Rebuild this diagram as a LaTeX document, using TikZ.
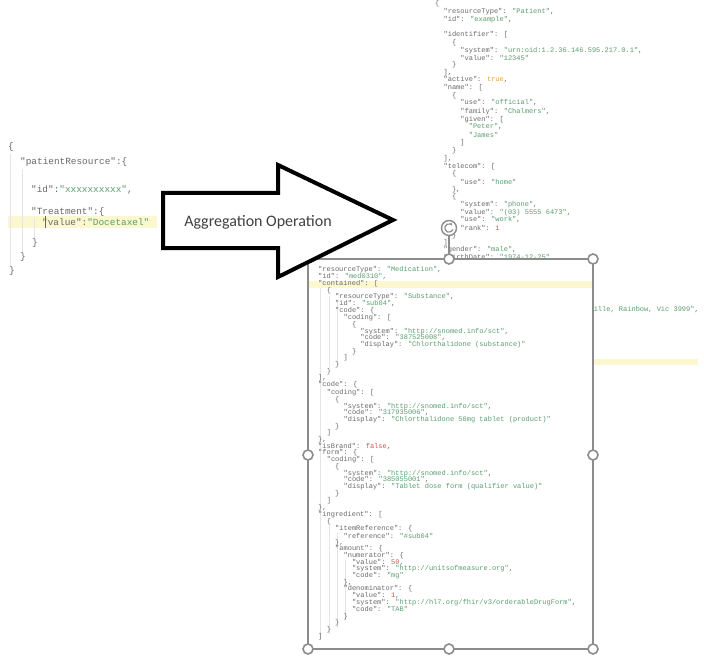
\documentclass[tikz,border=0pt]{standalone}
\usepackage{fontspec}
\usetikzlibrary{arrows.meta}
\newfontfamily\codef{Liberation Mono}
\newfontfamily\calf{Carlito}
\definecolor{kc}{HTML}{6A6A6A}
\definecolor{sc}{HTML}{5A9E6E}
\definecolor{nc}{HTML}{D9534F}
\definecolor{bc}{HTML}{E0A040}
\definecolor{hl}{HTML}{FBF7CF}
\definecolor{hg}{HTML}{8C8C8C}
\newcommand\V[1]{\textcolor{sc}{#1}}
\newcommand\N[1]{\textcolor{nc}{#1}}
\newcommand\B[1]{\textcolor{bc}{#1}}
\tikzset{
  cs/.style={anchor=west, inner sep=0pt, font=\codef\fontsize{7}{7}\selectfont, text=kc},
  cb/.style={anchor=west, inner sep=0pt, font=\codef\fontsize{9.4}{9.4}\selectfont, text=kc},
  guide/.style={draw=black!10, line width=0.6pt},
  handle/.style={circle, draw=hg, fill=white, line width=1.6pt, minimum size=10pt, inner sep=0pt},
  bigarrow/.style={draw=black, fill=white, line width=4pt, line join=miter},
}
\newcommand\cl[4]{\node[cs] (#3) at (#1,#2) {#4};}
\newcommand\bl[4]{\node[cb] (#3) at (#1,#2) {#4};}
\begin{document}
\begin{tikzpicture}[x=1pt,y=-1pt]
\path[use as bounding box] (0,0) rectangle (704,663);
\fill[white] (0,0) rectangle (704,663);

% ---------- left JSON ----------
\fill[hl] (8,216) rectangle (157,228);
\draw[guide] (10,154) -- (10,266);
\draw[guide] (22,170) -- (22,252);
\draw[guide] (34,218) -- (34,238);
\bl{8}{147}{a0}{\{}
\bl{20}{162}{a1}{"patientResource":\{}
\bl{31}{190}{a2}{"id":\V{"xxxxxxxxxx"},}
\bl{31}{212}{a3}{"Treatment":\{}
\bl{42}{222}{a4}{"value":\V{"Docetaxel"}}
\draw[black!60, line width=0.6pt] (45.5,216) -- (45.5,228);
\bl{32}{243}{a5}{\}}
\bl{20}{257}{a6}{\}}
\bl{9}{271}{a7}{\}}

% ---------- Patient JSON (behind) ----------
\fill[hl] (593,359) rectangle (698,365);
\cl{435}{4}{p0}{\{}
\cl{443.4}{12}{p1}{"resourceType": \V{"Patient"},}
\cl{443.4}{20}{p2}{"id": \V{"example"},}
\cl{443.4}{35}{p3}{"identifier": [}
\cl{451.8}{43}{p4}{\{}
\cl{460.2}{51}{p5}{"system": \V{"urn:oid:1.2.36.146.595.217.0.1"},}
\cl{460.2}{58}{p6}{"value": \V{"12345"}}
\cl{451.8}{65}{p7}{\}}
\cl{443.4}{73}{p8}{],}
\cl{443.4}{80}{p9}{"active": \B{true},}
\cl{443.4}{88}{p10}{"name": [}
\cl{451.8}{96}{p11}{\{}
\cl{460.2}{103}{p12}{"use": \V{"official"},}
\cl{460.2}{112}{p13}{"family": \V{"Chalmers"},}
\cl{460.2}{120}{p14}{"given": [}
\cl{468.6}{127}{p15}{\V{"Peter"},}
\cl{468.6}{135}{p16}{\V{"James"}}
\cl{460.2}{143}{p17}{]}
\cl{451.8}{151}{p18}{\}}
\cl{443.4}{159}{p19}{],}
\cl{443.4}{167}{p20}{"telecom": [}
\cl{451.8}{174}{p21}{\{}
\cl{460.2}{182}{p22}{"use": \V{"home"}}
\cl{451.8}{190}{p23}{\},}
\cl{451.8}{197}{p24}{\{}
\cl{460.2}{205}{p25}{"system": \V{"phone"},}
\cl{460.2}{213}{p26}{"value": \V{"(03) 5555 6473"},}
\cl{460.2}{220}{p27}{"use": \V{"work"},}
\cl{460.2}{228}{p28}{"rank": \N{1}}
\cl{451.8}{236}{p29}{\}}
\cl{443.4}{243}{p30}{],}
\cl{443.4}{250}{p31}{"gender": \V{"male"},}
\cl{443.4}{258}{p32}{"birthDate": \V{"1974-12-25"},}
\node[cs, anchor=east] (p33) at (699,310) {\V{"PleasantVille, Rainbow, Vic  3999"},};

% ---------- Medication box ----------
\coordinate (bx1) at (308,259);
\coordinate (bx2) at (593,649);
\fill[white] (bx1) rectangle (bx2);
\fill[hl] (309,281) rectangle (592,288);
\draw[guide] (320,288) -- (320,640);
\draw[guide] (329,296) -- (329,368);
\draw[guide] (329,526) -- (329,634);
\draw[guide] (337,302) -- (337,362);
\draw[guide] (337,533) -- (337,628);
\draw[guide] (345,560) -- (345,620);

\cl{318}{270}{m1}{"resourceType": \V{"Medication"},}
\cl{318}{277}{m2}{"id": \V{"med0310"},}
\cl{318}{284}{m3}{"contained": [}
\cl{326.6}{291}{m4}{\{}
\cl{335}{297}{m5}{"resourceType": \V{"Substance"},}
\cl{335}{304}{m6}{"id": \V{"sub04"},}
\cl{335}{311}{m7}{"code": \{}
\cl{343.4}{318}{m8}{"coding": [}
\cl{351.8}{325}{m9}{\{}
\cl{360.2}{332}{m10}{"system": \V{"http://snomed.info/sct"},}
\cl{360.2}{338}{m11}{"code": \V{"387525008"},}
\cl{360.2}{345}{m12}{"display": \V{"Chlorthalidone (substance)"}}
\cl{351.8}{352}{m13}{\}}
\cl{343.4}{358}{m14}{]}
\cl{335}{365}{m15}{\}}
\cl{326.6}{372}{m16}{\}}
\cl{318}{378}{m17}{],}
\cl{318}{385}{m18}{"code": \{}
\cl{326.6}{393}{m19}{"coding": [}
\cl{335}{400}{m20}{\{}
\cl{343.4}{407}{m21}{"system": \V{"http://snomed.info/sct"},}
\cl{343.4}{413}{m22}{"code": \V{"317935006"},}
\cl{343.4}{420}{m23}{"display": \V{"Chlorthalidone 50mg tablet (product)"}}
\cl{335}{427}{m24}{\}}
\cl{326.6}{433}{m25}{]}
\cl{318}{440}{m26}{\},}
\cl{318}{447}{m27}{"isBrand": \N{false},}
\cl{318}{453}{m28}{"form": \{}
\cl{326.6}{460}{m29}{"coding": [}
\cl{335}{467}{m30}{\{}
\cl{343.4}{474}{m31}{"system": \V{"http://snomed.info/sct"},}
\cl{343.4}{480}{m32}{"code": \V{"385055001"},}
\cl{343.4}{487}{m33}{"display": \V{"Tablet dose form (qualifier value)"}}
\cl{335}{494}{m34}{\}}
\cl{326.6}{501}{m35}{]}
\cl{318}{508}{m36}{\},}
\cl{318}{515}{m37}{"ingredient": [}
\cl{326.6}{522}{m38}{\{}
\cl{335}{529}{m39}{"itemReference": \{}
\cl{343.4}{536}{m40}{"reference": \V{"\#sub04"}}
\cl{335}{543}{m41}{\},}
\cl{335}{549}{m42}{"amount": \{}
\cl{343.4}{556}{m43}{"numerator": \{}
\cl{351.8}{563}{m44}{"value": \N{50},}
\cl{351.8}{569}{m45}{"system": \V{"http://unitsofmeasure.org"},}
\cl{351.8}{576}{m46}{"code": \V{"mg"}}
\cl{343.4}{583}{m47}{\},}
\cl{343.4}{589}{m48}{"denominator": \{}
\cl{351.8}{596}{m49}{"value": \N{1},}
\cl{351.8}{603}{m50}{"system": \V{"http://hl7.org/fhir/v3/orderableDrugForm"},}
\cl{351.8}{609}{m51}{"code": \V{"TAB"}}
\cl{343.4}{617}{m52}{\}}
\cl{335}{623}{m53}{\}}
\cl{326.6}{630}{m54}{\}}
\cl{318}{637}{m55}{]}

% selection frame
\draw[hg, line width=1.6pt] (bx1) rectangle (bx2);
\coordinate (rot) at (449,228);
\draw[hg, line width=1.4pt] (449,235) -- (449,259);
\node[handle] (h1) at (449,259) {};
\node[handle] (h2) at (593,259) {};
\node[handle] (h3) at (308,455) {};
\node[handle] (h4) at (593,455) {};
\node[handle] (h5) at (308,649) {};
\node[handle] (h6) at (449,649) {};
\node[handle] (h7) at (593,649) {};
\node[circle, draw=hg, fill=white, line width=1.4pt, minimum size=15pt, inner sep=0pt] (rh) at (rot) {};
\draw[hg, line width=1.2pt, -{Stealth[length=3pt]}] ([shift={(20:4.2)}]rot) arc[start angle=20, end angle=320, radius=4.2];

% ---------- aggregation arrow ----------
\draw[bigarrow] (163,193) -- (278,193) -- (278,165) -- (393,220) -- (278,277) -- (278,248) -- (163,248) -- cycle;
\node[font=\calf\fontsize{16}{16}\selectfont, text=black!75, inner sep=0pt] (agg) at (258,222) {Aggregation Operation};
\end{tikzpicture}
\end{document}
